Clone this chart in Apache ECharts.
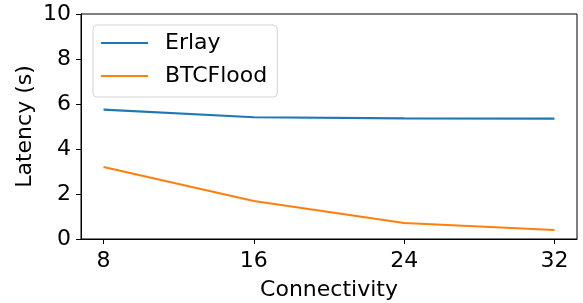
<!DOCTYPE html>
<html>
<head>
<meta charset="utf-8">
<script src="https://cdn.jsdelivr.net/npm/echarts@6/dist/echarts.min.js"></script>
<style>
  html, body { margin: 0; padding: 0; background: #fff; }
  #chart { width: 583px; height: 303px; }
</style>
</head>
<body>
<div id="chart"></div>
<script>
// connectivity vs latency
var connectivity = [8, 16, 24, 32];
var erlay = [5.75, 5.41, 5.36, 5.35];
var btcFlood = [3.2, 1.69, 0.71, 0.4];
var xTicks = [8, 16, 24, 32];

function pairs(xs, ys) {
	return xs.map(function (x, i) { return [x, ys[i]]; });
}

var font = 'DejaVu Sans';
var chart = echarts.init(document.getElementById('chart'), null, { renderer: 'canvas' });
chart.setOption({
	animation: false,
	backgroundColor: '#fff',
	textStyle: { fontFamily: font },
	grid: {
		left: 81, right: 6, top: 14, bottom: 64,
		outerBoundsMode: 'none',
		show: true, borderColor: '#000', borderWidth: 1
	},
	legend: {
		orient: 'vertical',
		left: 93, top: 25,
		padding: [1.5, 10, 4.5, 8],
		itemGap: 0,
		itemWidth: 47, itemHeight: 2.2,
		icon: 'rect',
		borderColor: '#d4d4d4', borderWidth: 1, borderRadius: 4,
		textStyle: { fontSize: 22, color: '#000', fontFamily: font, lineHeight: 33, padding: [0, 0, 0, 12] },
		data: ['Erlay', 'BTCFlood']
	},
	xAxis: {
		type: 'value',
		min: 6.8, max: 33.2,
		name: 'Connectivity',
		nameLocation: 'middle',
		nameGap: 40,
		nameMoveOverlap: false,
		nameTextStyle: { fontSize: 22, color: '#000', fontFamily: font },
		axisLine: { lineStyle: { color: '#000' } },
		axisTick: { show: true, length: 5, customValues: xTicks, lineStyle: { color: '#000' } },
		axisLabel: { fontSize: 22, color: '#000', margin: 11, customValues: xTicks },
		splitLine: { show: false }
	},
	yAxis: {
		type: 'value',
		min: 0, max: 10, interval: 2,
		name: 'Latency (s)',
		nameLocation: 'middle',
		nameGap: 45,
		nameMoveOverlap: false,
		nameTextStyle: { fontSize: 22, color: '#000', fontFamily: font },
		axisLine: { show: true, lineStyle: { color: '#000' } },
		axisTick: { show: true, length: 5, lineStyle: { color: '#000' } },
		axisLabel: { fontSize: 22, color: '#000', margin: 10 },
		splitLine: { show: false }
	},
	series: [
		{
			name: 'Erlay', type: 'line', symbol: 'none',
			data: pairs(connectivity, erlay),
			lineStyle: { color: '#1f77b4', width: 2.2 },
			itemStyle: { color: '#1f77b4' }
		},
		{
			name: 'BTCFlood', type: 'line', symbol: 'none',
			data: pairs(connectivity, btcFlood),
			lineStyle: { color: '#ff7f0e', width: 2.2 },
			itemStyle: { color: '#ff7f0e' }
		}
	]
});
</script>
</body>
</html>
